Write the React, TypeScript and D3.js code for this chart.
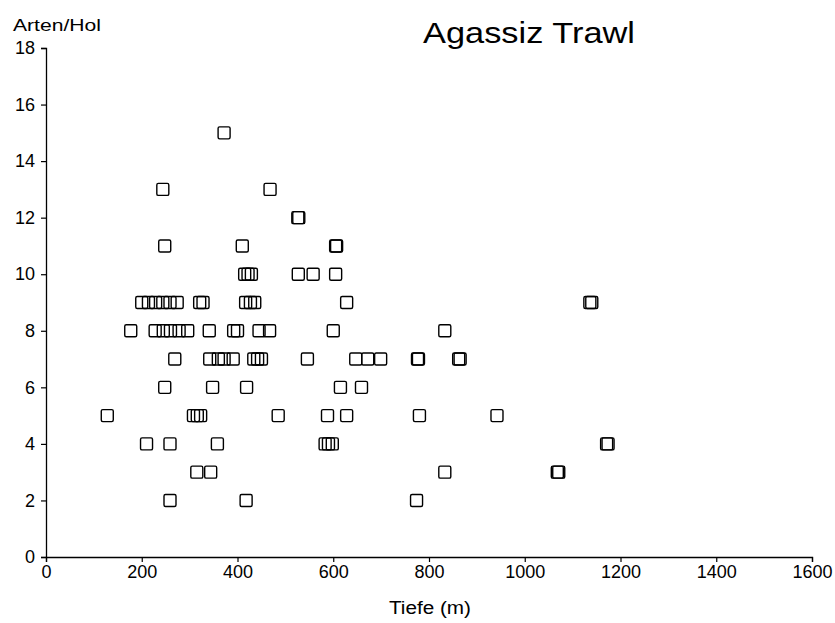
import React, { useEffect, useRef } from "react";
import * as d3 from "d3";

// Tiefe (m) und Artenzahl pro Hol, gelesen aus der Vorlage
const depthM = [
  372,
  244, 468,
  526, 528,
  248, 410, 605, 607,
  415, 422, 429, 527, 558, 605,
  200, 214, 229, 244, 259, 274, 321, 328, 417, 427, 436, 628, 1136, 1140,
  177, 228, 245, 260, 278, 296, 341, 392, 400, 445, 467, 600, 833,
  269, 342, 360, 372, 391, 434, 442, 450, 546, 647, 672, 699, 776, 778, 862, 865,
  248, 348, 419, 615, 659,
  128, 308, 316, 323, 485, 588, 628, 780, 942,
  210, 259, 358, 583, 590, 598, 1171, 1174,
  315, 344, 833, 1068, 1071,
  259, 418, 774,
];
const speciesPerHaul = [
  15,
  13, 13,
  12, 12,
  11, 11, 11, 11,
  10, 10, 10, 10, 10, 10,
  9, 9, 9, 9, 9, 9, 9, 9, 9, 9, 9, 9, 9, 9,
  8, 8, 8, 8, 8, 8, 8, 8, 8, 8, 8, 8, 8,
  7, 7, 7, 7, 7, 7, 7, 7, 7, 7, 7, 7, 7, 7, 7, 7,
  6, 6, 6, 6, 6,
  5, 5, 5, 5, 5, 5, 5, 5, 5,
  4, 4, 4, 4, 4, 4, 4, 4,
  3, 3, 3, 3, 3,
  2, 2, 2,
];
const xTicks = [0, 200, 400, 600, 800, 1000, 1200, 1400, 1600];
const yTicks = [0, 2, 4, 6, 8, 10, 12, 14, 16, 18];

const W = 835;
const H = 623;
const FONT = "'Liberation Sans', Arial, Helvetica, sans-serif";

export default function App() {
  const axRef = useRef<SVGGElement>(null);
  const x = d3.scaleLinear().domain([0, 1600]).range([46, 812]);
  const y = d3.scaleLinear().domain([0, 18]).range([557, 48]);
  const box = 12;

  useEffect(() => {
    const g = d3.select(axRef.current);
    g.selectAll("*").remove();
    const xa = g
      .append("g")
      .attr("transform", `translate(0,${y(0)})`)
      .call(
        d3.axisBottom(x).tickValues(xTicks).tickSize(5).tickPadding(3).tickFormat(d3.format("d"))
      );
    const ya = g
      .append("g")
      .attr("transform", `translate(${x(0)},0)`)
      .call(
        d3.axisLeft(y).tickValues(yTicks).tickSize(5).tickPadding(6).tickFormat(d3.format("d"))
      );
    [xa, ya].forEach((a) => {
      a.select(".domain").attr("stroke", "#000").attr("stroke-width", 1.3);
      a.selectAll(".tick line").attr("stroke", "#000").attr("stroke-width", 1.2);
      a.selectAll(".tick text")
        .attr("fill", "#000")
        .style("font-family", FONT)
        .style("font-size", "18px");
    });
  }, []);

  return (
    <div style={{ position: "absolute", left: 0, top: 0 }}>
      <svg width={W} height={H} style={{ display: "block", background: "#fff" }}>
        <rect width={W} height={H} fill="#fff" />
        <text x={13} y={31} fontFamily={FONT} fontSize={17} fill="#000" textLength={88} lengthAdjust="spacingAndGlyphs">
          Arten/Hol
        </text>
        <text x={529} y={43} textAnchor="middle" fontFamily={FONT} fontSize={30} fill="#000" textLength={212} lengthAdjust="spacingAndGlyphs">
          Agassiz Trawl
        </text>
        <text x={430} y={614} textAnchor="middle" fontFamily={FONT} fontSize={18} fill="#000" textLength={82} lengthAdjust="spacingAndGlyphs">
          Tiefe (m)
        </text>
        <g ref={axRef} />
        <g>
          {depthM.map((d, i) => (
            <rect
              key={i}
              x={x(d) - box / 2}
              y={y(speciesPerHaul[i]) - box / 2}
              width={box}
              height={box}
              rx={1.5}
              fill="none"
              stroke="#000"
              strokeWidth={1.4}
            />
          ))}
        </g>
      </svg>
    </div>
  );
}
